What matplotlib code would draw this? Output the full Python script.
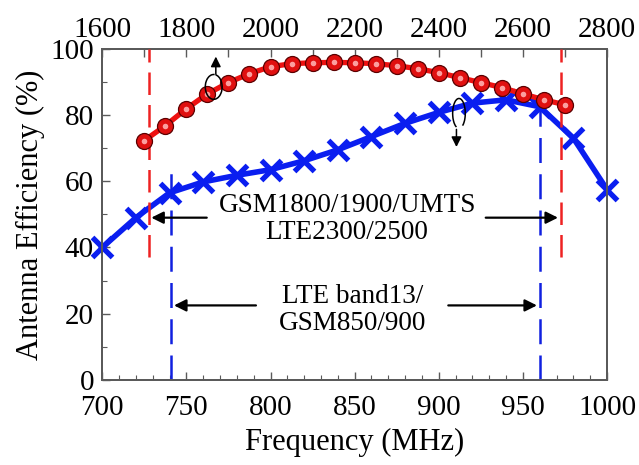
import numpy as np
import matplotlib
matplotlib.use("Agg")
import matplotlib.pyplot as plt
from matplotlib.patches import Arc
from matplotlib.ticker import MultipleLocator

# ------------------------------------------------------------------
# DATA
# ------------------------------------------------------------------
low_freq = [700, 720, 740, 760, 780, 800, 820, 840, 860, 880,
            900, 920, 940, 960, 980, 1000]
low_eff = [40.0, 49.0, 56.5, 59.8, 61.8, 63.5, 66.2, 69.5, 73.5, 77.5,
           80.8, 83.6, 84.6, 82.5, 73.0, 57.5]

high_freq = [1700, 1750, 1800, 1850, 1900, 1950, 2000, 2050, 2100, 2150, 2200,
             2250, 2300, 2350, 2400, 2450, 2500, 2550, 2600, 2650, 2700]
high_eff = [72.3, 76.8, 81.9, 86.4, 89.8, 92.5, 94.6, 95.5, 95.8, 95.9, 95.8,
            95.5, 94.9, 94.0, 92.8, 91.3, 89.8, 88.3, 86.4, 84.6, 83.1]

# band edges
low_band = [741, 960]
high_band = [1710, 2690]

high_label = "GSM1800/1900/UMTS\nLTE2300/2500"
low_label = "LTE band13/\nGSM850/900"

# ------------------------------------------------------------------
# STYLE
# ------------------------------------------------------------------
plt.rcParams["font.family"] = ["Liberation Serif", "DejaVu Serif"]
SPINE = "#5a5a5a"

fig = plt.figure(figsize=(6.39, 4.65), dpi=100)
ax = fig.add_axes([0.160, 0.183, 0.790, 0.712])
ax2 = ax.twiny()

# ------------------------------------------------------------------
# CURVES
# ------------------------------------------------------------------
ax.plot(low_freq, low_eff, color="#0a1ef0", lw=4.0, marker="x",
        markersize=14, markeredgewidth=3.8, zorder=4, clip_on=False)

ax2.plot(high_freq, high_eff, color="#ee1111", lw=3.8, marker="o",
         markersize=11.5, markerfacecolor="#e01010", markeredgecolor="#5a0000",
         markeredgewidth=0.9, zorder=5, clip_on=False)
# small highlight on the balls
ax2.plot(high_freq, high_eff, ls="none", marker="o", markersize=4,
         markerfacecolor="#ffb0b0", markeredgecolor="none", alpha=0.9,
         zorder=6, clip_on=False)

# ------------------------------------------------------------------
# BAND EDGES (dashed)
# ------------------------------------------------------------------
for xv in high_band:
    ax2.plot([xv, xv], [37, 100], color="#ee2222", lw=1.8,
             dashes=(9, 4), zorder=3)
ax.plot([low_band[0]] * 2, [0, 65], color="#1020e0", lw=1.8,
        dashes=(10, 4.5), zorder=3)
ax.plot([low_band[1]] * 2, [0, 82], color="#1020e0", lw=1.8,
        dashes=(10, 4.5), zorder=3)

# ------------------------------------------------------------------
# TEXT + ARROWS
# ------------------------------------------------------------------
ax.text(845.5, 48.6, high_label, ha="center", va="center", fontsize=19.5,
        linespacing=1.12)
ax.text(849, 21.2, low_label, ha="center", va="center", fontsize=19.5,
        linespacing=1.12)

arr = dict(arrowstyle="-|>", color="black", lw=1.6, mutation_scale=18)
ax2.annotate("", xy=(high_band[0], 49), xytext=(1855, 49), arrowprops=arr)
ax2.annotate("", xy=(high_band[1], 49), xytext=(2505, 49), arrowprops=arr)
ax.annotate("", xy=(low_band[0], 22.5), xytext=(793, 22.5), arrowprops=arr)
ax.annotate("", xy=(low_band[1], 22.5), xytext=(904, 22.5), arrowprops=arr)

# curved arrows telling which curve goes with which axis
ax2.add_patch(Arc((1865, 88.5), 40, 7.5, theta1=60, theta2=400,
                  color="black", lw=1.1, zorder=7))
ax2.annotate("", xy=(1870, 98.5), xytext=(1870, 91.5),
             arrowprops=dict(arrowstyle="-|>", color="black", lw=1.1,
                             mutation_scale=15), zorder=7)
ax.add_patch(Arc((912, 80.5), 7.5, 9, theta1=-60, theta2=250,
                 color="black", lw=1.1, zorder=7))
ax.annotate("", xy=(910.5, 69.5), xytext=(910.5, 76.5),
            arrowprops=dict(arrowstyle="-|>", color="black", lw=1.1,
                            mutation_scale=15), zorder=7)

# ------------------------------------------------------------------
# AXES
# ------------------------------------------------------------------
ax.set_xlim(700, 1000)
ax.set_ylim(0, 100)
ax2.set_xlim(1600, 2800)

ax.xaxis.set_major_locator(MultipleLocator(50))
ax.xaxis.set_minor_locator(MultipleLocator(10))
ax.yaxis.set_major_locator(MultipleLocator(20))
ax.yaxis.set_minor_locator(MultipleLocator(10))
ax2.xaxis.set_major_locator(MultipleLocator(200))
ax2.xaxis.set_minor_locator(MultipleLocator(100))

ax.tick_params(which="both", direction="in", color=SPINE, labelsize=21,
               top=False, right=False)
ax.tick_params(axis="x", pad=11)
ax.tick_params(axis="y", pad=6)
ax.tick_params(which="major", length=6, width=1)
ax.tick_params(which="minor", length=3.5, width=0.8)
ax2.tick_params(which="both", direction="in", color=SPINE, labelsize=21,
                pad=4)
ax2.tick_params(which="major", length=6, width=1)
ax2.tick_params(which="minor", length=6, width=1)

for a in (ax, ax2):
    for sp in a.spines.values():
        sp.set_color(SPINE)
        sp.set_linewidth(1.4)

ax.set_xlabel("Frequency (MHz)", fontsize=22, labelpad=5)
ax.set_ylabel("Antenna Efficiency (%)", fontsize=22, labelpad=4)

fig.savefig("out.png", dpi=100)
